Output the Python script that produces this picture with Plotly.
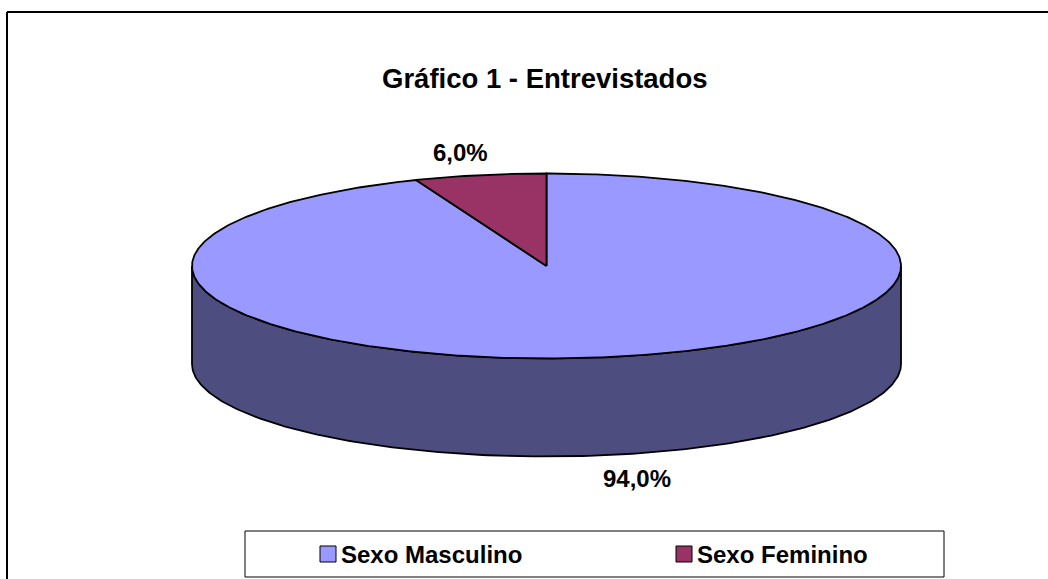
import numpy as np
import plotly.graph_objects as go

# ---- data ----
categories = ["Sexo Masculino", "Sexo Feminino"]
values = [94.0, 6.0]
value_labels = ["94,0%", "6,0%"]
title_text = "Gráfico 1 - Entrevistados"

# ---- style / layout ----
top_colors = ["#9999FF", "#993366"]
side_colors = ["#4D4D80", "#4D1A33"]
W, H = 1048, 579
CX, CY, RX, RY, DEPTH = 546.5, 266.0, 354.5, 92.5, 98.0
FONT = "Liberation Sans, Arial, sans-serif"
label_pos = [(637, 478), (460, 152)]


def ell(phi_deg, dy=0.0):
    p = np.radians(phi_deg)
    return CX + RX * np.sin(p), CY - RY * np.cos(p) + dy


fig = go.Figure()

# slice angles (clockwise from 12 o'clock); Feminino sits just left of the top
total = sum(values)
spans = [v / total * 360.0 for v in values]
starts = [0.0, spans[0]]

# visible side (front half of the cylinder) belongs to the large slice
a0, a1 = 90.0, 270.0
front = np.linspace(a0, a1, 200)
tx, ty = ell(front)
bx, by = ell(front[::-1], DEPTH)
fig.add_trace(go.Scatter(
    x=np.concatenate([tx, bx, tx[:1]]), y=np.concatenate([ty, by, ty[:1]]),
    mode="lines", fill="toself", fillcolor=side_colors[0],
    line=dict(color="black", width=1.8), hoverinfo="skip", showlegend=False))

# top faces
for name, s, sp, col in zip(categories, starts, spans, top_colors):
    ang = np.linspace(s, s + sp, max(int(sp * 2), 8))
    ex, ey = ell(ang)
    fig.add_trace(go.Scatter(
        x=np.concatenate([[CX], ex, [CX]]), y=np.concatenate([[CY], ey, [CY]]),
        mode="lines", fill="toself", fillcolor=col,
        line=dict(color="black", width=1.8), name=name, showlegend=False,
        hoverinfo="name"))

annotations = [dict(x=W / 2 + 21, y=78, text="<b>%s</b>" % title_text, showarrow=False,
                    xref="x", yref="y", font=dict(family=FONT, size=27.5, color="black"))]
for lab, (lx, ly) in zip(value_labels, label_pos):
    annotations.append(dict(x=lx, y=ly, text="<b>%s</b>" % lab, showarrow=False,
                            xref="x", yref="y",
                            font=dict(family=FONT, size=24, color="black")))

shapes = [
    dict(type="line", x0=7, y0=12, x1=W + 5, y1=12, xref="x", yref="y",
         line=dict(color="black", width=2)),
    dict(type="line", x0=7, y0=12, x1=7, y1=H + 5, xref="x", yref="y",
         line=dict(color="black", width=2)),
    dict(type="rect", x0=245, y0=531, x1=944, y1=577, xref="x", yref="y",
         line=dict(color="black", width=1), fillcolor="white"),
]
legend_x = [320, 676]
for name, col, lx in zip(categories, top_colors, legend_x):
    shapes.append(dict(type="rect", x0=lx, y0=546, x1=lx + 16, y1=562, xref="x", yref="y",
                       line=dict(color="black", width=1), fillcolor=col))
    annotations.append(dict(x=lx + 19, y=554, text="<b>%s</b>" % name, showarrow=False,
                            xanchor="left", xref="x", yref="y",
                            font=dict(family=FONT, size=24, color="black")))

fig.update_layout(
    width=W, height=H, margin=dict(l=0, r=0, t=0, b=0),
    paper_bgcolor="white", plot_bgcolor="white",
    xaxis=dict(range=[0, W], visible=False, fixedrange=True),
    yaxis=dict(range=[H, 0], visible=False, fixedrange=True),
    annotations=annotations, shapes=shapes, showlegend=False,
)

fig.write_html("out.html", config={"displayModeBar": False},
               post_script="document.body.style.margin='0';document.body.style.overflow='hidden';")
